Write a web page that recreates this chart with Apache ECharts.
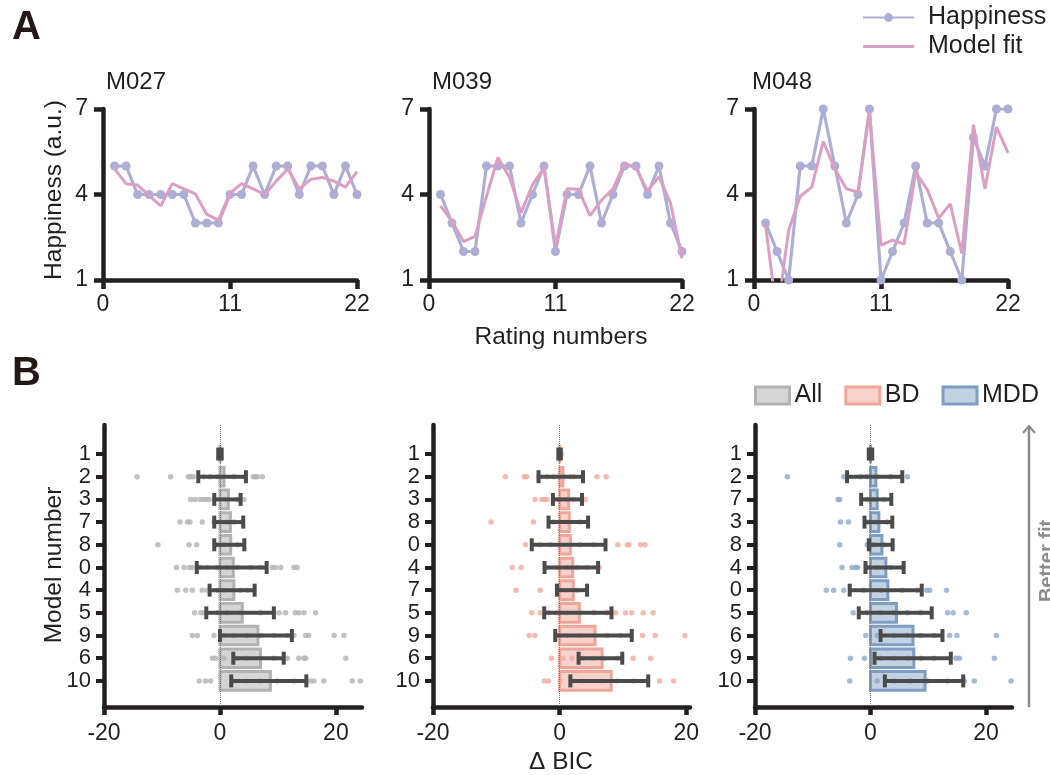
<!DOCTYPE html>
<html><head><meta charset="utf-8">
<script src="https://cdn.jsdelivr.net/npm/echarts@6/dist/echarts.min.js"></script>
<style>html,body{margin:0;padding:0;background:#fff}#c{width:1050px;height:775px}</style>
</head><body><div id="c"></div>
<script>
// ---------- Panel A data ----------
const ratingNumbers = [1,2,3,4,5,6,7,8,9,10,11,12,13,14,15,16,17,18,19,20,21,22];
const subjectNames = ['M027','M039','M048'];
const happinessM027 = [5,5,4,4,4,4,4,3,3,3,4,4,5,4,5,5,4,5,5,4,5,4];
const fitM027 = [4.9,4.38,4.33,3.96,3.6,4.38,4.2,4.02,3.3,3.1,4.05,4.38,4.2,4.0,4.47,4.9,4.2,4.53,4.6,4.47,4.26,4.8];
const happinessM039 = [4,3,2,2,5,5,5,3,4,5,2,4,4,5,3,4,5,5,4,5,3,2];
const fitM039 = [3.6,3.06,2.35,2.53,3.94,5.3,4.6,3.35,4.35,4.94,2.18,4.2,4.18,3.26,3.8,4.2,5.1,4.94,4.12,4.63,3.7,1.76];
const happinessM048 = [3,2,1,5,5,7,5,3,4,7,1,2,3,5,3,3,2,1,6,5,7,7];
const fitM048 = [2.93,-0.27,2.75,3.94,4.26,5.86,4.9,4.2,4.08,6.9,2.22,2.4,2.26,4.77,4.18,3.17,3.67,1.93,6.45,4.2,6.37,5.46];
const ratingTicks = [0,11,22];
const happinessTicks = [1,4,7];

// ---------- Panel B data ----------
const groupNames = ['All','BD','MDD'];
const modelsAll = ['1','2','3','7','8','0','4','5','9','6','10'];
const meanAll = [0,0.7,1.45,1.8,1.85,2.3,2.4,3.85,6.55,7.0,8.7];
const lowAll  = [-0.3,-3.74,-0.98,-0.98,-0.98,-4.0,-1.78,-2.36,0,2.3,1.95];
const highAll = [0.3,4.48,3.56,4.02,4.2,8.05,5.98,9.3,12.4,11.0,14.9];
const ptsAll = [
 [0,0,0,0],
 [-14.3,-8.5,-5.46,-5.06,-4.6,-2.76,-1.72,-0.46,0.69,2.4,5.75,6.1,6.44,7.3],
 [-5.06,-4.3,-3.45,-2.87,-2.36,-1.9,-1.03,0,1.26,2.99,4.14],
 [-6.9,-5.6,-5.17,-3.05,-1.03,0,1.26,2.41,3.85],
 [-10.7,-5.34,-4.02,-0.46,0.69,1.84,2.99],
 [-7.5,-6.2,-5.3,-4.8,-3.45,-2.2,-0.46,1.26,3.0,5.3,7.0,9.0,9.6,10.5,12.76,13.3],
 [-7.36,-5.9,-4.8,-3.05,-2.18,-0.46,0.69,2.41,3.56,4.7,5.86],
 [-4.37,-3.33,-2.76,-0.46,1.26,3.56,7.0,9.3,10.2,11.3,13.0,13.6,14.5,16.5],
 [-4.77,-3.9,-1.03,0.69,2.4,4.7,7.0,9.3,11.6,12.76,14.8,15.3,19.7,21.4],
 [-1.3,-0.75,0.69,3.0,4.7,7.0,9.3,11.6,13.6,14.5,14.8,21.7],
 [-3.6,-2.5,-1.6,2.4,4.7,7.0,9.9,12.76,15.6,16.2,17.9,22.8,24.2]
];
const modelsBD = ['1','2','3','8','0','4','7','5','9','6','10'];
const meanBD = [0,0.53,1.43,1.53,1.7,2.06,2.17,3.12,5.6,6.72,8.15];
const lowBD  = [-0.2,-3.33,-1.06,-1.75,-4.4,-2.38,-0.42,-2.43,-0.69,3.0,1.7];
const highBD = [0.2,3.7,3.54,4.5,7.25,6.08,4.34,8.2,11.4,9.9,14.0];
const ptsBD = [
 [0,0.26],
 [-8.57,-5.6,-5.2,-3.33,-2.0,-0.95,0.63,1.7,2.2,5.9,7.35],
 [-3.86,-2.8,-2.43,-2.0,-0.95,-0.16,1.16,2.2,4.07],
 [-10.85,-4.13,-0.95,1.16,3.28],
 [-5.4,-3.07,-1.48,0.1,1.7,3.28,5.4,9.2,10.7,10.95,12.8,13.5],
 [-7.5,-6.08,-2.0,-0.42,1.16,2.75,4.34,6.24],
 [-6.9,-3.07,0.1,1.16,2.75],
 [-4.4,-3.07,-1.75,-0.42,1.16,3.28,5.4,7.5,8.84,10.4,11.4,13.2,14.76],
 [-4.8,-3.9,-0.42,1.16,3.28,5.4,7.5,9.6,11.2,13.1,15.1,19.8],
 [-1.27,0.53,1.96,3.8,5.4,7.0,9.1,11.6,14.4],
 [-2.43,-1.75,0.1,2.2,3.8,6.45,9.1,11.75,13.9,15.8,18.0]
];
const modelsMDD = ['1','2','7','3','8','4','0','5','6','9','10'];
const meanMDD = [0,0.93,1.16,1.45,1.97,2.67,3.0,4.5,7.36,7.5,9.45];
const lowMDD  = [-0.3,-4.06,-1.62,-1.04,-0.29,-0.87,-3.6,-2.03,1.74,0.7,2.49];
const highMDD = [0.3,5.5,3.6,3.77,3.83,5.74,8.87,10.6,12.46,13.9,16.06];
const ptsMDD = [
 [0,0],
 [-14.4,-4.64,-1.74,-0.58,1.16,3.48,6.38],
 [-5.62,-5.33,-0.58,0.58,2.32],
 [-5.2,-3.83,-0.58,0.87,2.9],
 [-5.33,-0.58,0.58,2.32],
 [-4.93,-3.19,-2.6,-2.2,-0.58,1.16,3.48,5.5],
 [-7.65,-6.38,-4.64,-1.16,0,1.74,5.5,8.1,9.74,10.26,13.16],
 [-3.0,-0.58,1.74,4.06,6.38,8.7,13.33,14.3,16.58],
 [-0.81,1.16,4.06,6.38,8.7,11.0,13.7,14.96,21.8],
 [-3.48,-1.04,1.74,4.06,6.38,8.7,11.0,14.78,15.4,21.45],
 [-3.6,1.16,4.06,6.96,9.86,13.33,16.23,17.97,24.35]
];
const bicTicks = [-20,0,20];

// ---------- styling ----------
const FONT = "'Liberation Sans', Arial, Helvetica, sans-serif";
const AX = '#231f20';
const colHappy = '#adaed3', colFit = '#dc9fc4';
const groupStyle = [
  {fill:'#d5d5d5', stroke:'#b2b2b2', dot:'#b3b3b3'},
  {fill:'#f7d2cc', stroke:'#eea69b', dot:'#f0ab9f'},
  {fill:'#c3d2e2', stroke:'#7f9cc1', dot:'#8ea9c9'}
];
const TICK_FS = 23;

const chart = echarts.init(document.getElementById('c'), null, {renderer:'canvas'});

const happySets = [happinessM027, happinessM039, happinessM048];
const fitSets = [fitM027, fitM039, fitM048];
const modelSets = [modelsAll, modelsBD, modelsMDD];
const meanSets = [meanAll, meanBD, meanMDD];
const lowSets = [lowAll, lowBD, lowMDD];
const highSets = [highAll, highBD, highMDD];
const ptSets = [ptsAll, ptsBD, ptsMDD];

const gridA = [
  {left:103, top:109, width:254, height:171},
  {left:429, top:109, width:253, height:171},
  {left:754, top:109, width:254, height:171}
];
const gridB = [
  {left:104, top:425, width:258, height:282},
  {left:433, top:425, width:257, height:282},
  {left:755, top:425, width:257, height:282}
];
const bMax = [24.5, 20.6, 24.5];

const grids = [], xAxes = [], yAxes = [], series = [];
const axisLineStyle = {color:AX, width:4.5};

for (let k=0;k<3;k++){
  grids.push(Object.assign({containLabel:false}, gridA[k]));
  xAxes.push({type:'value', gridIndex:k, min:0, max:22,
    axisLine:{onZero:false, lineStyle:axisLineStyle},
    axisTick:{customValues:ratingTicks, length:9, lineStyle:axisLineStyle},
    axisLabel:{customValues:ratingTicks, fontSize:TICK_FS, color:AX, fontFamily:FONT, margin:13,
      showMinLabel:true, showMaxLabel:true, hideOverlap:false},
    splitLine:{show:false}});
  yAxes.push({type:'value', gridIndex:k, min:1, max:7,
    axisLine:{onZero:false, lineStyle:axisLineStyle},
    axisTick:{customValues:happinessTicks, length:9, lineStyle:axisLineStyle},
    axisLabel:{customValues:happinessTicks, fontSize:TICK_FS, color:AX, fontFamily:FONT, margin:15,
      showMinLabel:true, showMaxLabel:true, hideOverlap:false},
    splitLine:{show:false}});
  series.push({type:'line', name:'Happiness', xAxisIndex:k, yAxisIndex:k, z:2,
    data: ratingNumbers.map((x,i)=>[x, happySets[k][i]]),
    symbol:'circle', symbolSize:9, showSymbol:true,
    lineStyle:{color:colHappy, width:3.2}, itemStyle:{color:colHappy}, emphasis:{disabled:true}});
  series.push({type:'line', name:'Model fit', xAxisIndex:k, yAxisIndex:k, z:3,
    data: ratingNumbers.map((x,i)=>[x, fitSets[k][i]]),
    symbol:'none', clip:true,
    lineStyle:{color:colFit, width:3}, itemStyle:{color:colFit}, emphasis:{disabled:true}});
}

for (let g=0;g<3;g++){
  const idx = 3+g;
  const names = modelSets[g];
  const rows = names.map((_,i)=>i);
  grids.push(Object.assign({containLabel:false}, gridB[g]));
  xAxes.push({type:'value', gridIndex:idx, min:-20, max:bMax[g],
    axisLine:{onZero:false, lineStyle:axisLineStyle},
    axisTick:{customValues:bicTicks, length:8, lineStyle:axisLineStyle},
    axisLabel:{customValues:bicTicks, fontSize:TICK_FS, color:AX, fontFamily:FONT, margin:15,
      showMinLabel:true, showMaxLabel:true, hideOverlap:false},
    splitLine:{show:false}});
  yAxes.push({type:'value', gridIndex:idx, min:-1.28, max:11.15, inverse:true,
    axisLine:{onZero:false, lineStyle:axisLineStyle},
    axisTick:{customValues:rows, length:8, lineStyle:{color:AX, width:4}},
    axisLabel:{customValues:rows, formatter:(v)=>names[Math.round(v)], fontSize:22, lineHeight:20,
      color:AX, fontFamily:FONT, margin:13, showMinLabel:true, showMaxLabel:true, hideOverlap:false},
    splitLine:{show:false}});
  const st = groupStyle[g];
  // bars
  series.push({type:'custom', name:groupNames[g], xAxisIndex:idx, yAxisIndex:idx, z:2,
    data: meanSets[g].map((m,i)=>[m,i]),
    encode:{x:0, y:1},
    itemStyle:{color:st.fill, borderColor:st.stroke, borderWidth:3},
    renderItem:(params, api)=>{
      const v = api.value(0), i = api.value(1);
      const p0 = api.coord([0, i-0.41]);
      const p1 = api.coord([v, i+0.41]);
      return {type:'rect', shape:{x:Math.min(p0[0],p1[0]), y:Math.min(p0[1],p1[1]),
        width:Math.abs(p1[0]-p0[0]), height:Math.abs(p1[1]-p0[1])},
        style:{fill:st.fill, stroke:st.stroke, lineWidth:3}};
    }, emphasis:{disabled:true}});
  // individual points
  const dots = [];
  ptSets[g].forEach((arr,i)=>arr.forEach(v=>dots.push([v,i])));
  series.push({type:'scatter', name:groupNames[g]+' subjects', xAxisIndex:idx, yAxisIndex:idx, z:3,
    data:dots, symbolSize:5.5, itemStyle:{color:st.dot, opacity:0.8}, emphasis:{disabled:true}});
  // error bars
  series.push({type:'custom', name:groupNames[g]+' error', xAxisIndex:idx, yAxisIndex:idx, z:5,
    data: lowSets[g].map((lo,i)=>[lo, highSets[g][i], i]),
    encode:{x:[0,1], y:2},
    renderItem:(params, api)=>{
      const lo = api.value(0), hi = api.value(1), i = api.value(2);
      const a = api.coord([lo, i]), b = api.coord([hi, i]);
      const h = 6.5;
      const s = {stroke:'#4b4b4b', lineWidth:4, fill:null};
      return {type:'group', children:[
        {type:'line', shape:{x1:a[0], y1:a[1], x2:b[0], y2:b[1]}, style:s},
        {type:'line', shape:{x1:a[0], y1:a[1]-h, x2:a[0], y2:a[1]+h}, style:s},
        {type:'line', shape:{x1:b[0], y1:b[1]-h, x2:b[0], y2:b[1]+h}, style:s}
      ]};
    },
    markLine:{silent:true, symbol:['none','none'], label:{show:false}, z:4,
      lineStyle:{type:'dotted', color:'#777', width:1}, emphasis:{disabled:true},
      data:[{xAxis:0}]},
    emphasis:{disabled:true}});
}

const txt = (text, x, y, opts={}) => Object.assign({type:'text', x, y, silent:true,
  style:Object.assign({text, fontFamily:FONT, fontSize:24.5, fill:AX, textAlign:'center', textVerticalAlign:'middle'}, opts.style||{})},
  opts.rotation!==undefined?{rotation:opts.rotation}:{});

const graphics = [
  txt('A', 12, 28, {style:{fontSize:40, fontWeight:'bold', fill:'#231815', textAlign:'left'}}),
  txt('B', 12, 374, {style:{fontSize:40, fontWeight:'bold', fill:'#231815', textAlign:'left'}}),
  txt(subjectNames[0], 106, 82, {style:{textAlign:'left', fontSize:24}}),
  txt(subjectNames[1], 432, 82, {style:{textAlign:'left', fontSize:24}}),
  txt(subjectNames[2], 752, 82, {style:{textAlign:'left', fontSize:24}}),
  txt('Happiness (a.u.)', 54, 190, {rotation:Math.PI/2}),
  txt('Rating numbers', 561, 337),
  txt('Model number', 54, 565, {rotation:Math.PI/2}),
  txt('Δ BIC', 561, 762),
  {type:'line', silent:true, shape:{x1:1029, y1:707, x2:1029, y2:426}, style:{stroke:'#8a8a8a', lineWidth:2.5}},
  {type:'polyline', silent:true, shape:{points:[[1023,433],[1029,426],[1035,433]]}, style:{stroke:'#8a8a8a', lineWidth:2, fill:null}},
  txt('Better fit', 1047.5, 561, {rotation:Math.PI/2, style:{fontSize:20, fontWeight:'bold', fill:'#8c8c8c'}})
];

chart.setOption({
  animation:false,
  backgroundColor:'#ffffff',
  textStyle:{fontFamily:FONT},
  grid:grids, xAxis:xAxes, yAxis:yAxes, series:series,
  legend:[
    {data:['Happiness', {name:'Model fit', icon:'path://M0,0H51V3H0Z', itemStyle:{color:colFit}}],
      orient:'vertical', left:857, top:0, itemWidth:51, itemHeight:11, itemGap:4,
      textStyle:{fontSize:25, color:AX, fontFamily:FONT, padding:[0,0,0,9]}, selectedMode:false},
    {data:groupNames.map((n,g)=>({name:n, icon:'rect',
        itemStyle:{color:groupStyle[g].fill, borderColor:groupStyle[g].stroke, borderWidth:3}})),
      orient:'horizontal', left:749, top:378, itemWidth:34, itemHeight:17, itemGap:22,
      textStyle:{fontSize:25, color:AX, fontFamily:FONT}, selectedMode:false}
  ],
  graphic:graphics
});
</script>
</body></html>
